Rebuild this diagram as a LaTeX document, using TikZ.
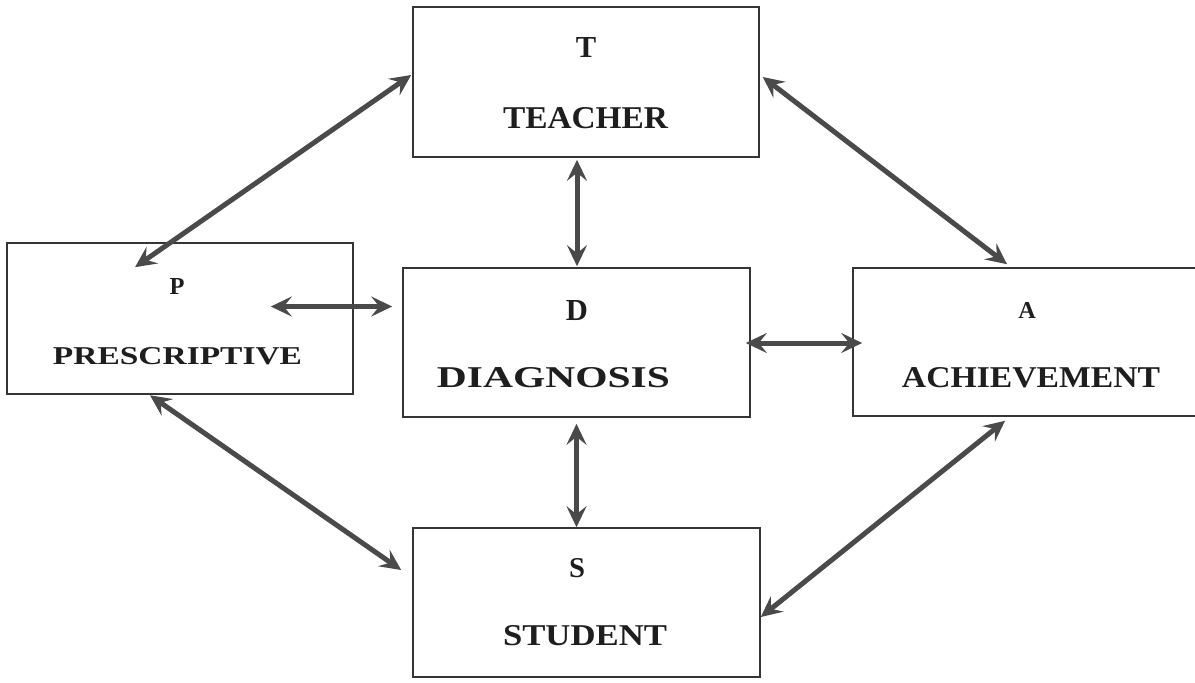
\documentclass[tikz,border=0pt]{standalone}
\usepackage{fontspec}
\setmainfont{Liberation Serif}
\usepackage{graphicx}
\usetikzlibrary{arrows.meta,calc}
\definecolor{boxgray}{HTML}{353535}
\definecolor{arrowgray}{HTML}{4A4A4A}
\definecolor{textdark}{HTML}{1E1E1E}
\begin{document}
\begin{tikzpicture}[x=1pt,y=-1pt,
  box/.style={draw=boxgray,line width=1.6pt,rectangle,inner sep=0pt},
  lab/.style={anchor=base,inner sep=0pt,text=textdark,font=\bfseries},
  conn/.style={draw=arrowgray,line width=5pt,
    {Stealth[length=21pt,width=20pt,inset=8pt]}-{Stealth[length=21pt,width=20pt,inset=8pt]}}
]
\fill[white] (0,0) rectangle (1195,683);
\useasboundingbox (0,0) rectangle (1195,683);

% boxes
\node[box,minimum width=346pt,minimum height=150pt] (T) at (586,82) {};
\node[box,minimum width=346pt,minimum height=151pt] (P) at (180,318.5) {};
\node[box,minimum width=347pt,minimum height=149pt] (D) at (576.5,342.5) {};
\node[box,minimum width=362pt,minimum height=148pt] (A) at (1034,342) {};
\node[box,minimum width=347pt,minimum height=149pt] (S) at (586.5,602.5) {};

% labels
\node[lab] (tl) at (586,57) {\resizebox{!}{20pt}{T}};
\node[lab] (tw) at (585.5,128) {\resizebox{165pt}{21pt}{TEACHER}};
\node[lab] (pl) at (177,294) {\resizebox{!}{16pt}{P}};
\node[lab] (pw) at (177.5,364) {\resizebox{249pt}{17pt}{PRESCRIPTIVE}};
\node[lab] (dl) at (577,320) {\resizebox{!}{20pt}{D}};
\node[lab] (dw) at (553.5,387) {\resizebox{233pt}{20pt}{DIAGNOSIS}};
\node[lab] (al) at (1027,318) {\resizebox{!}{16pt}{A}};
\node[lab] (aw) at (1031,387) {\resizebox{258pt}{20pt}{ACHIEVEMENT}};
\node[lab] (sl) at (577,577) {\resizebox{!}{19pt}{S}};
\node[lab] (sw) at (585,645) {\resizebox{164pt}{20pt}{STUDENT}};

% connectors
\draw[conn] ($(T.west)+(-1,-7)$) -- ($(P.north)+(-45,25)$);
\draw[conn] ($(T.south)+(-9,2)$) -- ($(D.north)+(0.5,-1)$);
\draw[conn] ($(T.east)+(3,-5)$) -- ($(A.north)+(-27,-3)$);
\draw[conn] ($(P.east)+(-83,-12)$) -- ($(D.west)+(-10,-36)$);
\draw[conn] ($(D.east)+(-5,0.5)$) -- ($(A.west)+(10,1)$);
\draw[conn] ($(D.south)+(0,6)$) -- ($(S.north)+(-10,0)$);
\draw[conn] ($(P.south)+(-30,0.5)$) -- ($(S.west)+(-11,-32.5)$);
\draw[conn] ($(A.south)+(-29,4)$) -- ($(S.east)+(0,14.5)$);
\end{tikzpicture}
\end{document}
